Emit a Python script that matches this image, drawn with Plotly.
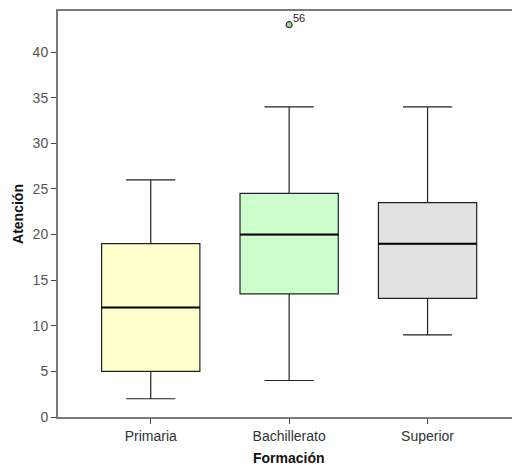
import plotly.graph_objects as go

categories = ["Primaria", "Bachillerato", "Superior"]
mins = [2, 4, 9]
q1s = [5, 13.5, 13]
medians = [12, 20, 19]
q3s = [19, 24.5, 23.5]
maxs = [26, 34, 34]
fills = ["#FFFFCC", "#CCFFCC", "#E2E2E2"]
outlier_cat = ["Bachillerato"]
outlier_val = [43]
outlier_lbl = ["56"]

FONT = "Liberation Sans, Arial"

fig = go.Figure()
for i, c in enumerate(categories):
    fig.add_trace(go.Box(
        x=[i], q1=[q1s[i]], median=[medians[i]], q3=[q3s[i]],
        lowerfence=[mins[i]], upperfence=[maxs[i]],
        fillcolor=fills[i], line=dict(color="#222222", width=1.2),
        width=0.71, whiskerwidth=0.5, boxpoints=False, showlegend=False,
        hoverinfo="skip"))
    fig.add_trace(go.Scatter(
        x=[i - 0.355, i + 0.355], y=[medians[i], medians[i]], mode="lines",
        line=dict(color="#000000", width=2), showlegend=False, hoverinfo="skip"))

ox = [categories.index(c) for c in outlier_cat]
fig.add_trace(go.Scatter(
    x=ox, y=outlier_val, mode="markers",
    marker=dict(size=6, color="#A0DC98", line=dict(color="#333333", width=1.2)),
    showlegend=False, hoverinfo="skip"))
for xv, yv, t in zip(ox, outlier_val, outlier_lbl):
    fig.add_annotation(x=xv, y=yv, text=t, showarrow=False, xanchor="left",
                       yanchor="bottom", xshift=2, yshift=-1,
                       font=dict(size=11, color="#222222", family=FONT))

fig.add_annotation(text="<b>Formación</b>", xref="paper", yref="paper",
                   x=(289 - 58) / 454, y=(417 - 458) / 406, showarrow=False,
                   xanchor="center", yanchor="middle",
                   font=dict(size=14, color="#111111", family=FONT))

fig.update_layout(
    width=512, height=468,
    margin=dict(l=58, r=0, t=11, b=51),
    paper_bgcolor="white", plot_bgcolor="white",
    font=dict(family=FONT, size=14, color="#444444"),
    xaxis=dict(
        range=[-0.67, 2.61], tickmode="array", tickvals=[0, 1, 2], ticktext=categories,
        showgrid=False, zeroline=False, showline=True, mirror=True,
        linecolor="#7a7a7a", linewidth=2, ticks="outside", ticklen=5,
        tickcolor="#444444", tickfont=dict(size=14, color="#333333")),
    yaxis=dict(
        range=[0, 44.5], tickmode="array", tickvals=list(range(0, 45, 5)),
        showgrid=False, zeroline=False, showline=True,
        linecolor="#7a7a7a", linewidth=2, ticks="outside", ticklen=5,
        tickcolor="#444444", tickfont=dict(size=14, color="#555555"),
        title=dict(text="<b>Atención</b>", font=dict(size=14, color="#111111"), standoff=6)),
)

fig.write_html("out.html")
